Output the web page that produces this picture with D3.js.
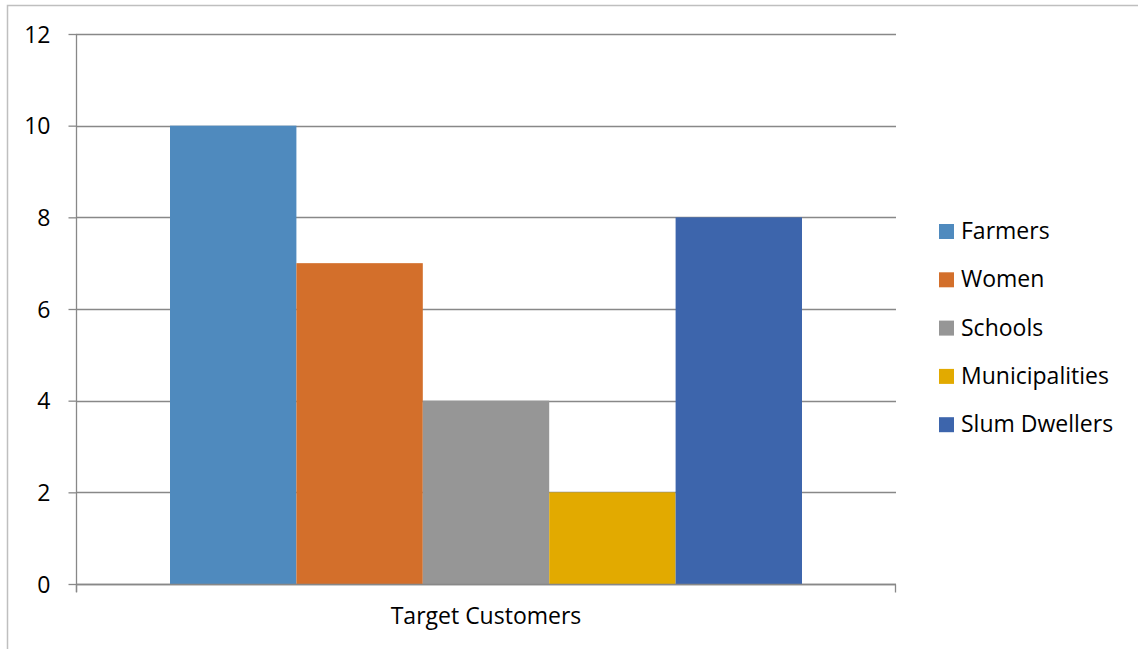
<!DOCTYPE html>
<html>
<head>
<meta charset="utf-8">
<script src="https://cdn.jsdelivr.net/npm/d3@7"></script>
<style>
  html, body { margin: 0; padding: 0; background: #fff; }
  svg { display: block; font-family: "Open Sans", "Noto Sans", sans-serif; }
</style>
</head>
<body>
<svg id="chart" width="1138" height="649"></svg>
<script>
// Series data for the single category
const category = "Target Customers";
const seriesNames = ["Farmers", "Women", "Schools", "Municipalities", "Slum Dwellers"];
const seriesValues = [10, 7, 4, 2, 8];
const seriesColors = ["#4F8ABE", "#D36F2B", "#969696", "#E2AA00", "#3D65AC"];
const yTicks = [0, 2, 4, 6, 8, 10, 12];

const svg = d3.select("#chart");
const fontSize = "23px";

// Outer chart frame
svg.append("rect")
  .attr("x", 7.5).attr("y", 5.5)
  .attr("width", 1160).attr("height", 680)
  .attr("fill", "none").attr("stroke", "#BFBFBF").attr("stroke-width", 1.5);

const plot = { left: 76, right: 896, top: 34, bottom: 584 };

const y = d3.scaleLinear().domain([0, 12]).range([plot.bottom, plot.top]);
const x0 = d3.scaleBand().domain([category]).range([plot.left, plot.right]).paddingInner(0).paddingOuter(0);
// gap width of ~150% of a bar on the outside of the cluster
const x1 = d3.scaleBand().domain(seriesNames)
  .range([x0(category) + 94, x0(category) + x0.bandwidth() - 94]);

// Horizontal gridlines
svg.append("g")
  .selectAll("line")
  .data(yTicks)
  .join("line")
  .attr("x1", plot.left).attr("x2", plot.right)
  .attr("y1", d => Math.round(y(d)) + 0.5).attr("y2", d => Math.round(y(d)) + 0.5)
  .attr("stroke", "#888").attr("stroke-width", 1.3);

// Bars
svg.append("g")
  .selectAll("rect")
  .data(seriesNames.map((n, i) => ({ name: n, value: seriesValues[i], color: seriesColors[i] })))
  .join("rect")
  .attr("x", d => x1(d.name))
  .attr("y", d => y(d.value))
  .attr("width", x1.bandwidth())
  .attr("height", d => y(0) - y(d.value))
  .attr("fill", d => d.color);

// Y axis
const yAxis = d3.axisLeft(y).tickValues(yTicks).tickSize(8).tickFormat(d3.format("d"));
const gy = svg.append("g").attr("transform", `translate(${plot.left + 0.5},0)`).call(yAxis);
gy.select(".domain").attr("stroke", "#888").attr("stroke-width", 1.3).attr("d", `M0,${plot.top}V${plot.bottom + 8}`);
gy.selectAll(".tick line").attr("stroke", "#888").attr("stroke-width", 1.3);
gy.selectAll(".tick text").attr("fill", "#000").style("font-size", fontSize)
  .style("font-family", "'Open Sans', sans-serif").attr("dy", "0.35em").attr("x", -26);

// X axis
const xAxis = d3.axisBottom(x0).tickSize(0).tickPadding(22);
const gx = svg.append("g").attr("transform", `translate(0,${plot.bottom + 0.5})`).call(xAxis);
gx.select(".domain").attr("stroke", "#888").attr("stroke-width", 1.3)
  .attr("d", `M${plot.left},0H${plot.right}M${plot.left + 0.5},0V8M${plot.right - 0.5},0V8`);
gx.selectAll(".tick text").attr("fill", "#000").style("font-size", fontSize)
  .style("font-family", "'Open Sans', sans-serif").attr("dy", "0.75em");

// Legend
const legend = svg.append("g").attr("transform", "translate(939,231)");
const item = legend.selectAll("g")
  .data(seriesNames)
  .join("g")
  .attr("transform", (d, i) => `translate(0,${i * 48.3})`);
item.append("rect")
  .attr("x", 0).attr("y", -7).attr("width", 15).attr("height", 15)
  .attr("fill", (d, i) => seriesColors[i]);
item.append("text")
  .attr("x", 22).attr("y", 0).attr("dy", "0.35em")
  .style("font-size", fontSize).attr("fill", "#000")
  .text(d => d);
</script>
</body>
</html>
